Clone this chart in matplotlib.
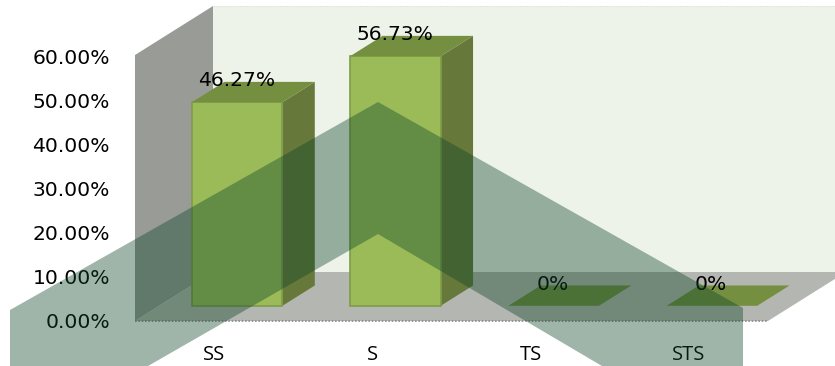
#!/usr/bin/env python3
# -*- coding: utf-8 -*-
"""
Pseudo-3D column chart of response shares (SS, S, TS, STS) with a
translucent chevron laid over the whole figure.
"""

import matplotlib
matplotlib.use("Agg")
import matplotlib.pyplot as plt
from matplotlib.patches import Polygon

# ---------- data ----------
categories = ["SS", "S", "TS", "STS"]
shares = [46.27, 56.73, 0, 0]
share_labels = ["46.27%", "56.73%", "0%", "0%"]
y_ticks = [0, 10, 20, 30, 40, 50, 60]
y_tick_labels = ["0.00%", "10.00%", "20.00%", "30.00%", "40.00%", "50.00%", "60.00%"]

# ---------- colours ----------
BACK_WALL = "#eef3ea"
SIDE_WALL = "#999b96"
FLOOR = "#b4b6b1"
BAR_FRONT = "#9bbb59"
BAR_EDGE = "#7f9c48"
BAR_TOP = "#748f40"
BAR_SIDE = "#66783a"
CHEVRON = "#0f4628"

W, H = 835, 366

# ---------- projection ----------
# one unit of depth moves a point right and up by a fixed share of the axes
DEPTH_X = 78 / 158.25
DEPTH_Y = 49 / 4.4
BAR_WIDTH = 0.572
BAR_D0, BAR_D1 = 0.31, 0.725
WALL_TOP = 60.45


def proj(x, y, d):
    return (x + d * DEPTH_X, y + d * DEPTH_Y)


fig = plt.figure(figsize=(W / 100, H / 100), dpi=100)
ax = fig.add_axes([135 / W, 1 - 321 / H, 633 / W, 264 / H])
ax.set_xlim(0, 4)
ax.set_ylim(0, 60)
ax.patch.set_alpha(0)
for s in ax.spines.values():
    s.set_visible(False)


def face(pts, color, z, edge="none", lw=0):
    ax.add_patch(Polygon(pts, closed=True, fc=color, ec=edge, lw=lw, zorder=z, clip_on=False))


# ---------- walls and floor ----------
face([proj(0, 0, 1), proj(4, 0, 1), proj(4, WALL_TOP, 1), proj(0, WALL_TOP, 1)], BACK_WALL, 1)
face([proj(0, 0, 0), proj(0, 0, 1), proj(0, WALL_TOP, 1), proj(0, WALL_TOP, 0)], SIDE_WALL, 2)
face([proj(0, 0, 0), proj(4, 0, 0), proj(4, 0, 1), proj(0, 0, 1)], FLOOR, 2)
ax.plot([0, 4], [0, 0], color="#8a8c87", lw=1.2, ls=(0, (1, 1)), zorder=3, clip_on=False)
ax.plot([proj(0, WALL_TOP, 1)[0], proj(4, WALL_TOP, 1)[0]], [proj(0, WALL_TOP, 1)[1]] * 2,
        color="#dfe4db", lw=0.8, ls=(0, (1, 1)), zorder=3, clip_on=False)

# ---------- bars ----------
for i, (val, lab) in enumerate(zip(shares, share_labels)):
    x0 = i + 0.5 - BAR_WIDTH / 2 + BAR_D0 * DEPTH_X - 0.16
    x1 = x0 + BAR_WIDTH
    if val > 0:
        face([proj(x1, 0, BAR_D0), proj(x1, 0, BAR_D1), proj(x1, val, BAR_D1), proj(x1, val, BAR_D0)],
             BAR_SIDE, 4)
        face([proj(x0, 0, BAR_D0), proj(x1, 0, BAR_D0), proj(x1, val, BAR_D0), proj(x0, val, BAR_D0)],
             BAR_FRONT, 5, edge=BAR_EDGE, lw=1.2)
    face([proj(x0, val, BAR_D0), proj(x1, val, BAR_D0), proj(x1, val, BAR_D1), proj(x0, val, BAR_D1)],
         BAR_TOP, 5)
    cx, cy = proj((x0 + x1) / 2, val, BAR_D0)
    ax.annotate(lab, (cx, cy), xytext=(-0.7, 15.5), textcoords="offset points", ha="center", va="center",
                fontsize=14.6, color="black", zorder=6, annotation_clip=False)

# ---------- axes text ----------
ax.set_yticks(y_ticks)
ax.set_yticklabels(y_tick_labels, fontsize=14.6, color="black")
ax.set_xticks([i + 0.5 for i in range(len(categories))])
ax.set_xticklabels(categories, fontsize=14.5, family="Open Sans", color="black")
ax.tick_params(axis="y", length=0, pad=18)
ax.tick_params(axis="x", length=0, pad=17)

# ---------- chevron over everything ----------
chevron_px = [(10, 310), (378, 102), (743, 308), (743, 366), (602, 366), (378, 234), (148, 366), (10, 366)]
chevron = Polygon([(x / W, 1 - y / H) for x, y in chevron_px], closed=True, fc=CHEVRON, ec="none",
                  alpha=0.4, transform=fig.transFigure, zorder=10)
fig.add_artist(chevron)

fig.savefig("out.png", dpi=100)
